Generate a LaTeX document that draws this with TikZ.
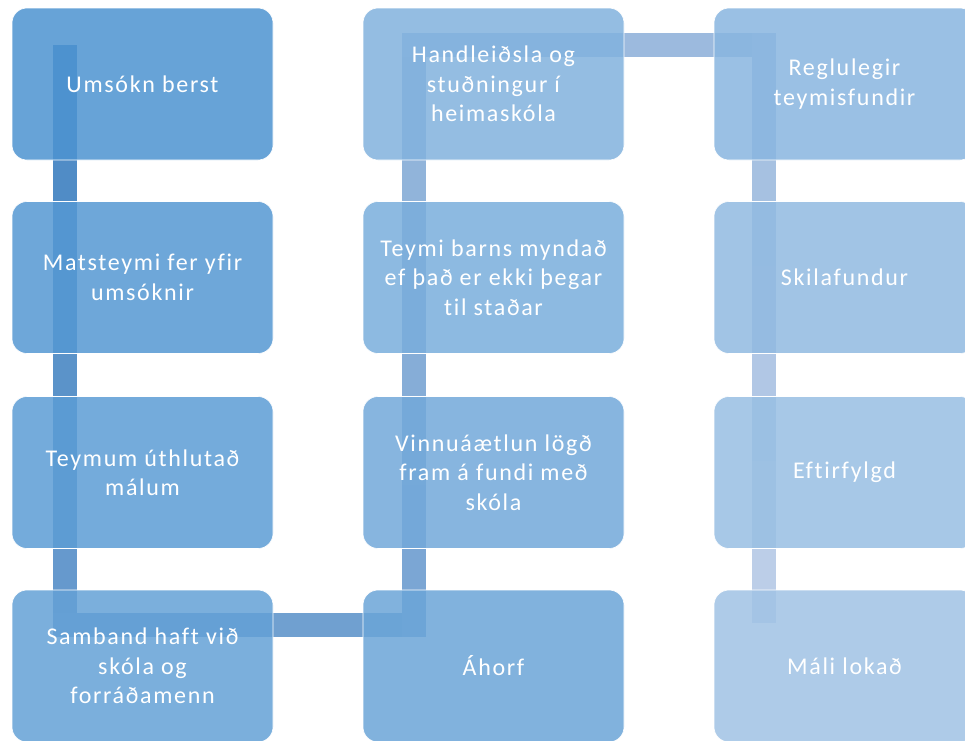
\documentclass[tikz,border=0pt]{standalone}
\usepackage{fontspec}
\setmainfont{Carlito}[LetterSpace=7.0, Ligatures={NoCommon, NoRare}]
\definecolor{b1}{RGB}{77,148,209}
\definecolor{b2}{RGB}{85,152,211}
\definecolor{b3}{RGB}{92,157,213}
\definecolor{b4}{RGB}{100,161,214}
\definecolor{b5}{RGB}{107,165,216}
\definecolor{b6}{RGB}{115,169,218}
\definecolor{b7}{RGB}{122,174,220}
\definecolor{b8}{RGB}{130,178,222}
\definecolor{b9}{RGB}{137,182,224}
\definecolor{b10}{RGB}{145,186,225}
\definecolor{b11}{RGB}{152,191,227}
\definecolor{b12}{RGB}{160,195,229}
\definecolor{c1}{RGB}{80,140,198}
\definecolor{c2}{RGB}{91,147,201}
\definecolor{c3}{RGB}{102,153,205}
\definecolor{c4}{RGB}{112,160,208}
\definecolor{c5}{RGB}{123,166,212}
\definecolor{c6}{RGB}{134,173,215}
\definecolor{c7}{RGB}{145,180,218}
\definecolor{c8}{RGB}{156,186,222}
\definecolor{c9}{RGB}{166,193,225}
\definecolor{c10}{RGB}{177,199,229}
\definecolor{c11}{RGB}{188,206,232}
\tikzset{
  stepbox/.style={rectangle, rounded corners=15pt, minimum width=261pt, minimum height=152pt,
    inner sep=0pt, draw=white, line width=0.6pt, fill opacity=0.85, text opacity=1, text=white,
    align=center, font=\fontsize{24}{29.5}\selectfont},
  conn/.style={line width=24pt, line cap=rect}
}
\begin{document}
\begin{tikzpicture}[x=1pt,y=-1pt]
\useasboundingbox (0,0) rectangle (965,740);
\clip (0,0) rectangle (965,740);
\fill[white] (0,0) rectangle (965,740);
% connector path points
\coordinate (s0) at (64.5,57);
\coordinate (s1) at (64.5,277.5);
\coordinate (s2) at (64.5,472.5);
\coordinate (s3) at (64.5,625);
\coordinate (s4) at (414,625);
\coordinate (s5) at (414,472.5);
\coordinate (s6) at (414,277.5);
\coordinate (s7) at (414,44.5);
\coordinate (s8) at (764,44.5);
\coordinate (s9) at (764,277.5);
\coordinate (s10) at (764,472.5);
\coordinate (s11) at (764,611);
\draw[conn, c1] (s0) -- (s1);
\draw[conn, c2] (s1) -- (s2);
\draw[conn, c3] (s2) -- (s3);
\draw[conn, c4] (s3) -- (s4);
\draw[conn, c5] (s4) -- (s5);
\draw[conn, c6] (s5) -- (s6);
\draw[conn, c7] (s6) -- (s7);
\draw[conn, c8] (s7) -- (s8);
\draw[conn, c9] (s8) -- (s9);
\draw[conn, c10] (s9) -- (s10);
\draw[conn, c11] (s10) -- (s11);
% boxes
\node[stepbox, fill=b1] (b1) at (142.5,84) {Umsókn berst};
\node[stepbox, fill=b2] (b2) at (142.5,277.5) {Matsteymi fer yfir\\umsóknir};
\node[stepbox, fill=b3] (b3) at (142.5,472.5) {Teymum úthlutað\\málum};
\node[stepbox, fill=b4] (b4) at (142.5,666) {Samband haft við\\skóla og\\forráðamenn};
\node[stepbox, fill=b5] (b5) at (493.5,666) {Áhorf};
\node[stepbox, fill=b6] (b6) at (493.5,472.5) {Vinnuáætlun lögð\\fram á fundi með\\skóla};
\node[stepbox, fill=b7] (b7) at (493.5,277.5) {Teymi barns myndað\\ef það er ekki þegar\\til staðar};
\node[stepbox, fill=b8] (b8) at (493.5,84) {Handleiðsla og\\stuðningur í\\heimaskóla};
\node[stepbox, fill=b9] (b9) at (844.5,84) {Reglulegir\\teymisfundir};
\node[stepbox, fill=b10] (b10) at (844.5,277.5) {Skilafundur};
\node[stepbox, fill=b11] (b11) at (844.5,472.5) {Eftirfylgd};
\node[stepbox, fill=b12] (b12) at (844.5,666) {Máli lokað};
\end{tikzpicture}
\end{document}
